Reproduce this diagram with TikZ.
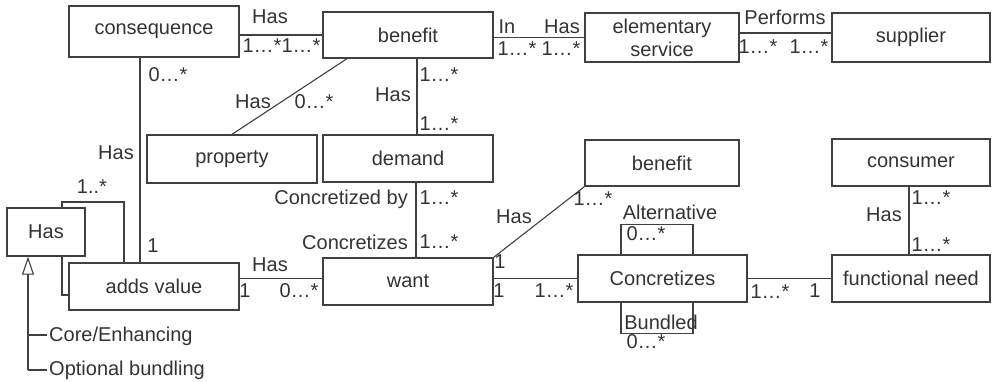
\documentclass[tikz,border=0pt]{standalone}
\usepackage{fontspec}
\setmainfont{Liberation Sans}
\usetikzlibrary{arrows.meta,backgrounds}
\begin{document}
\begin{tikzpicture}[x=1pt,y=-1pt,
  every node/.style={font=\fontsize{20}{23}\selectfont, text=black!80},
  box/.style={draw=black!75, line width=1.3pt, fill=white, inner sep=0pt, align=center},
  conn/.style={draw=black!75, line width=1.1pt},
  lbl/.style={inner sep=0pt}]
\useasboundingbox (0,0) rectangle (992,381);
% boxes
\node[box, minimum width=170pt, minimum height=51pt] (cons) at (154,31.5) {consequence};
\node[box, minimum width=170pt, minimum height=46pt] (ben1) at (408,35) {benefit};
\node[box, minimum width=154pt, minimum height=49pt] (elem) at (662,37.5) {elementary\\service};
\node[box, minimum width=158pt, minimum height=49pt] (supp) at (911,37.5) {supplier};
\node[box, minimum width=170pt, minimum height=48pt] (prop) at (232,159) {property};
\node[box, minimum width=170pt, minimum height=47pt] (dem) at (408,158.5) {demand};
\node[box, minimum width=154pt, minimum height=46pt] (ben2) at (662,163) {benefit};
\node[box, minimum width=158pt, minimum height=47pt] (consm) at (911,162.5) {consumer};
\node[box, minimum width=78pt, minimum height=48pt] (hasb) at (46,232) {Has};
\node[box, minimum width=170pt, minimum height=47pt] (adds) at (154,286.5) {adds value};
\node[box, minimum width=170pt, minimum height=47pt] (want) at (408,281.5) {want};
\node[box, minimum width=169pt, minimum height=47pt] (conc) at (662.5,278.5) {Concretizes};
\node[box, minimum width=158pt, minimum height=47pt] (func) at (911,278.5) {functional need};
\coordinate (lp1) at (62,202);
\coordinate (gb) at (28,370);
\coordinate (gc) at (28,335);
\coordinate (gce) at (47,335);
\coordinate (gbe) at (47,370);
% connectors
\begin{scope}[on background layer]
\draw[conn] (cons.east |- ben1.west) -- (ben1.west);
\draw[conn] (ben1.east |- elem.west) -- (elem.west);
\draw[conn] ([yshift=4.5pt]elem.east) -- ([yshift=4.5pt]supp.west);
\draw[conn] ([xshift=-61pt]ben1.south) -- (prop.north);
\draw[conn] ([xshift=9pt]ben1.south) -- ([xshift=9pt]dem.north);
\draw[conn] ([xshift=-14pt]cons.south) -- ([xshift=-14pt]adds.north);
\draw[conn] ([yshift=-8.5pt]adds.west) -| (lp1) -| ([xshift=-30pt]adds.north);
\draw[conn] (adds.east |- conc.west) -- (want.west |- conc.west);
\draw[conn] (want.east |- conc.west) -- (conc.west);
\draw[conn] (conc.east) -- (func.west);
\draw[conn] ([xshift=8pt]dem.south) -- ([xshift=8pt]want.north);
\draw[conn] (want.north east) -- (ben2.south west);
\draw[conn] ([xshift=-41.5pt]conc.north) -- ++(0,-30) -| ([xshift=30.5pt]conc.north);
\draw[conn] ([xshift=-41.5pt]conc.south) -- ++(0,31) -| ([xshift=30.5pt]conc.south);
\draw[conn] ([xshift=-2pt]consm.south) -- ([xshift=-2pt]func.north);
\end{scope}
\draw[conn, -{Triangle[open, length=18pt, width=12pt, line width=1.1pt]}] (gb) -- ([xshift=-18pt]hasb.south);
\draw[conn] (gc) -- (gce);
\draw[conn] (gb) -- (gbe);
\node[lbl, anchor=west] (tce) at (49,336) {Core/Enhancing};
\node[lbl, anchor=west] (tob) at (49,370) {Optional bundling};
% labels
\node[lbl] (l1) at (270,17) {Has};
\node[lbl] (l2) at (262,46) {1…*};
\node[lbl] (l3) at (301,46) {1…*};
\node[lbl] (l4) at (507,27) {In};
\node[lbl] (l5) at (562,27) {Has};
\node[lbl] (l6) at (517,49) {1…*};
\node[lbl] (l7) at (561,49) {1…*};
\node[lbl] (l8) at (785,17) {Performs};
\node[lbl] (l9) at (758,47) {1…*};
\node[lbl] (l10) at (809,47) {1…*};
\node[lbl] (l11) at (253,102) {Has};
\node[lbl] (l12) at (314,102) {0…*};
\node[lbl] (l13) at (168,75) {0…*};
\node[lbl] (l14) at (116,153) {Has};
\node[lbl] (l15) at (92,187) {1..*};
\node[lbl] (l16) at (153,246) {1};
\node[lbl] (l17) at (439,75) {1…*};
\node[lbl] (l18) at (393,95) {Has};
\node[lbl] (l19) at (439,124) {1…*};
\node[lbl, anchor=east] (l20) at (408,199) {Concretized by};
\node[lbl] (l21) at (439,198) {1…*};
\node[lbl, anchor=east] (l22) at (408,242) {Concretizes};
\node[lbl] (l23) at (439,242) {1…*};
\node[lbl] (l24) at (270,265) {Has};
\node[lbl] (l25) at (245,291) {1};
\node[lbl] (l26) at (299,291) {0…*};
\node[lbl] (l27) at (514,217) {Has};
\node[lbl] (l28) at (593,199) {1…*};
\node[lbl] (l29) at (500,262) {1};
\node[lbl] (l30) at (499,291) {1};
\node[lbl] (l31) at (554,291) {1…*};
\node[lbl] (l32) at (670,212) {Alternative};
\node[lbl] (l33) at (646,234) {0…*};
\node[lbl] (l34) at (661,322) {Bundled};
\node[lbl] (l35) at (646,342) {0…*};
\node[lbl] (l36) at (770,292) {1…*};
\node[lbl] (l37) at (815,291) {1};
\node[lbl] (l38) at (884,215) {Has};
\node[lbl] (l39) at (931,198) {1…*};
\node[lbl] (l40) at (931,245) {1…*};
\end{tikzpicture}
\end{document}
